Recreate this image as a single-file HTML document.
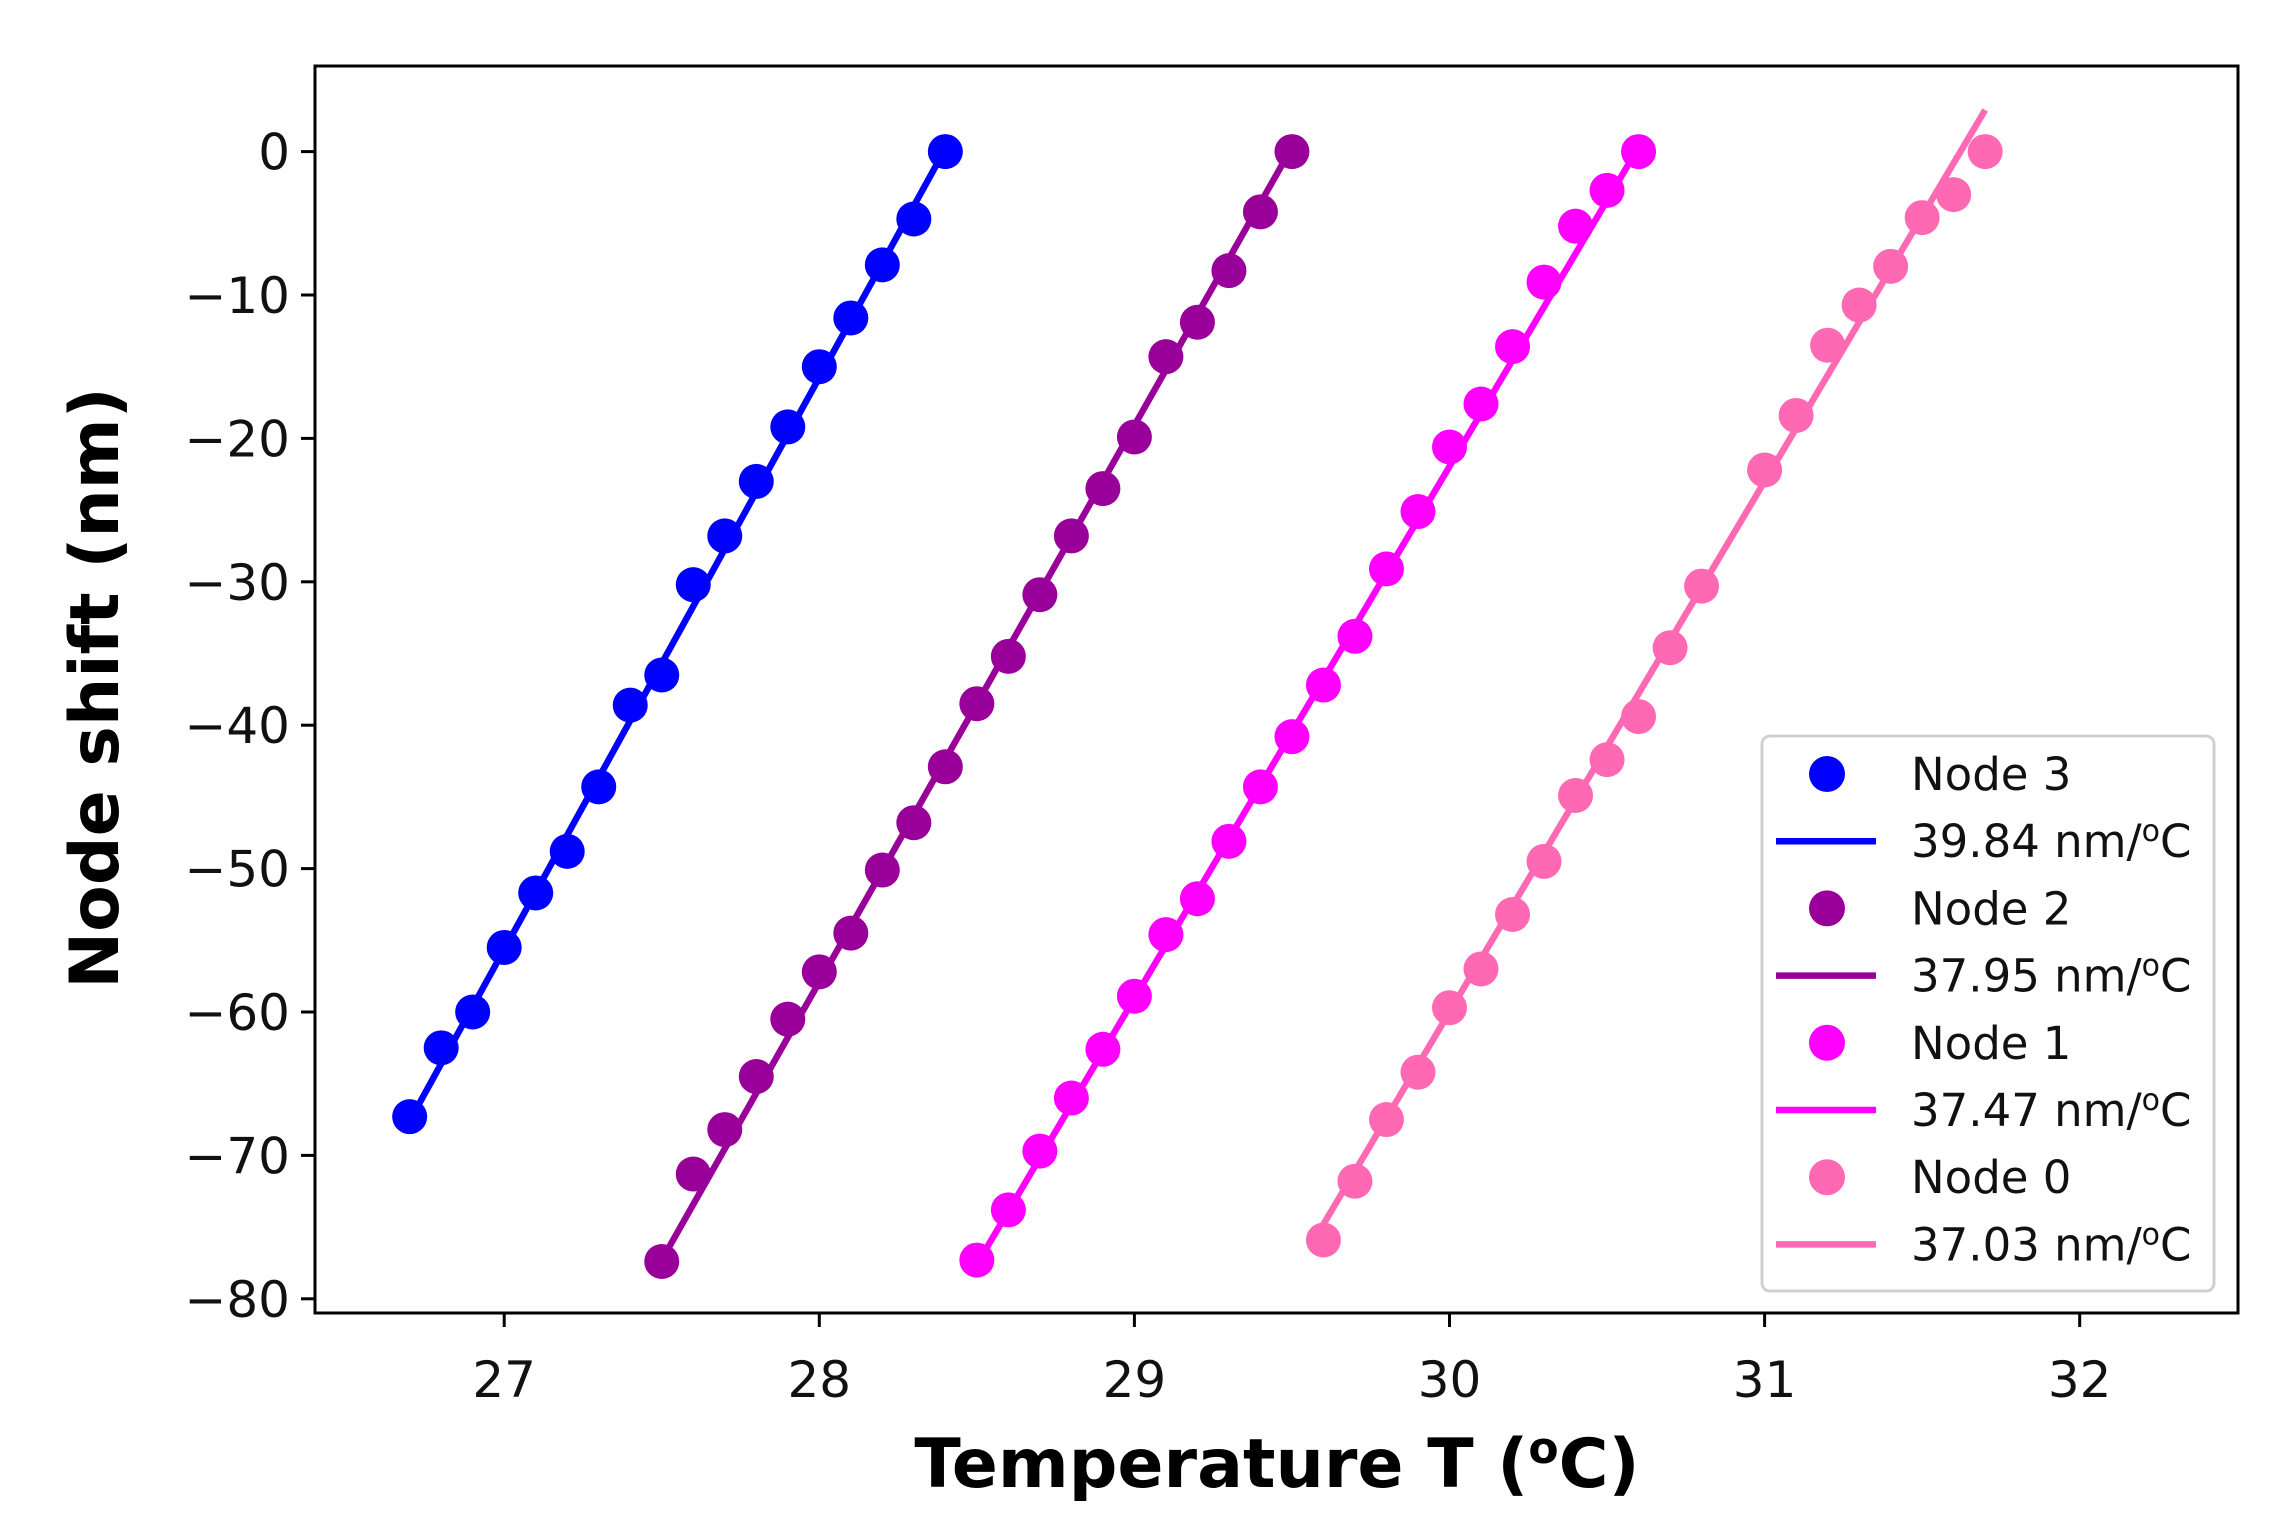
<!DOCTYPE html>
<html><head><meta charset="utf-8"><style>
html,body{margin:0;padding:0;background:#fff;}
svg{display:block;font-family:"DejaVu Sans","Liberation Sans",sans-serif;}
</style></head><body>
<svg id="s" width="2285" height="1529" viewBox="0 0 2285 1529" xmlns="http://www.w3.org/2000/svg">
<rect width="2285" height="1529" fill="#fff"/>
<g id="plot"></g>
<rect x="315" y="66" width="1923" height="1247" fill="none" stroke="#000" stroke-width="3"/>
<g id="ticks" font-size="50" fill="#111"></g>
<text x="1277" y="1487" text-anchor="middle" font-size="68" font-weight="bold" fill="#000">Temperature T (<tspan font-size="44" dy="-24">o</tspan><tspan dy="24">C)</tspan></text>
<text transform="translate(118,688) rotate(-90)" text-anchor="middle" font-size="68" font-weight="bold" fill="#000">Node shift (nm)</text>
<g id="legend"></g>
</svg>
<script>
const X=x=>504.2+(x-27)*315.1, Y=y=>151.6-y*14.34;
const ns="http://www.w3.org/2000/svg";
function el(p,t,a,txt){const e=document.createElementNS(ns,t);for(const k in a)e.setAttribute(k,a[k]);if(txt!==undefined)e.textContent=txt;p.appendChild(e);return e;}
const plot=document.getElementById('plot');
const series=[
 {c:'#0000ff',x0:26.7,ys:[-67.3,-62.5,-60,-55.5,-51.7,-48.8,-44.3,-38.6,-36.5,-30.2,-26.8,-23,-19.2,-15,-11.6,-7.9,-4.7,0],l:[26.7,-67.6,28.4,0.2]},
 {c:'#990099',x0:27.5,ys:[-77.4,-71.3,-68.2,-64.5,-60.5,-57.2,-54.5,-50.1,-46.8,-42.9,-38.5,-35.2,-30.9,-26.8,-23.5,-19.9,-14.3,-11.9,-8.3,-4.2,0],l:[27.5,-77.3,29.5,0.3]},
 {c:'#ff00ff',x0:28.5,ys:[-77.3,-73.8,-69.7,-66,-62.6,-58.9,-54.6,-52.1,-48.1,-44.3,-40.8,-37.2,-33.8,-29.1,-25.1,-20.6,-17.6,-13.6,-9.1,-5.2,-2.7,0],l:[28.5,-77.6,30.6,0.3]},
 {c:'#ff69b4',x0:29.6,ys:[-75.9,-71.8,-67.5,-64.2,-59.7,-57,-53.2,-49.5,-44.9,-42.4,-39.4,-34.6,-30.3,null,-22.2,-18.4,-13.5,-10.7,-8.0,-4.6,-3.0,0],l:[29.6,-74.8,31.7,2.9]}
];
for(const s of series){
 el(plot,'line',{x1:X(s.l[0]),y1:Y(s.l[1]),x2:X(s.l[2]),y2:Y(s.l[3]),stroke:s.c,'stroke-width':6.5});
 s.ys.forEach((y,i)=>{if(y===null)return;el(plot,'circle',{cx:X(s.x0+i*0.1),cy:Y(y),r:17.5,fill:s.c});});
}
const t=document.getElementById('ticks');
for(let v=0;v>=-80;v-=10){const y=Y(v);el(t,'line',{x1:301,y1:y,x2:315,y2:y,stroke:'#000','stroke-width':3});
 el(t,'text',{x:290,y:y+18,'text-anchor':'end'},v===0?'0':'\u2212'+(-v));}
for(let v=27;v<=32;v++){const x=X(v);el(t,'line',{x1:x,y1:1313,x2:x,y2:1327,stroke:'#000','stroke-width':3});
 el(t,'text',{x:x,y:1397,'text-anchor':'middle'},String(v));}
const lg=document.getElementById('legend');
el(lg,'rect',{x:1762,y:736,width:452,height:555,rx:8,fill:'#fff','fill-opacity':0.85,stroke:'#d0d0d0','stroke-width':3});
const labs=[['#0000ff','Node 3','39.84'],['#990099','Node 2','37.95'],['#ff00ff','Node 1','37.47'],['#ff69b4','Node 0','37.03']];
labs.forEach((L,i)=>{const y1=774+i*134.4,y2=y1+67.2;
 el(lg,'circle',{cx:1827,cy:y1,r:18,fill:L[0]});
 el(lg,'text',{x:1911,y:y1+16,'font-size':45,fill:'#111'},L[1]);
 el(lg,'line',{x1:1776,y1:y2,x2:1876,y2:y2,stroke:L[0],'stroke-width':6.5});
 const tx=el(lg,'text',{x:1911,y:y2+16,'font-size':45,fill:'#111'});
 tx.appendChild(document.createTextNode(L[2]+' nm/'));
 el(tx,'tspan',{'font-size':30,dy:-16},'o');
 el(tx,'tspan',{dy:16},'C');
});
</script>
</body></html>
